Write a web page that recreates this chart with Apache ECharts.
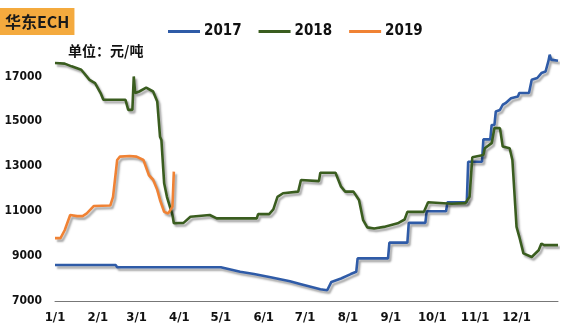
<!DOCTYPE html>
<html><head><meta charset="utf-8">
<script src="https://cdn.jsdelivr.net/npm/echarts@6/dist/echarts.min.js"></script>
<style>html,body{margin:0;padding:0;background:#fff;}#c{width:574px;height:332px;}</style>
</head><body><div id="c"></div>
<script>
var seriesNames = ['2017', '2018', '2019'];
var seriesColors = ['#2F5BA7', '#3A5D1F', '#F08234'];
var monthLengths = [31, 28, 31, 30, 31, 30, 31, 31, 30, 31, 30, 31];

var data2017 = [
  ['1/1', 8600], ['2/14', 8600], ['2/15', 8500], ['5/1', 8500], ['5/15', 8300], ['5/25', 8200],
  ['6/6', 8060], ['6/20', 7880], ['6/28', 7750], ['7/12', 7520], ['7/17', 7480], ['7/20', 7850],
  ['7/27', 8000], ['8/3', 8200], ['8/7', 8300], ['8/8', 8900], ['8/30', 8900], ['8/31', 9600],
  ['9/13', 9600], ['9/14', 10480], ['9/26', 10480], ['9/27', 11000], ['10/11', 11000], ['10/12', 11400],
  ['10/26', 11400], ['10/27', 13200], ['11/6', 13200], ['11/7', 14200], ['11/12', 14200], ['11/13', 14840],
  ['11/15', 14840], ['11/16', 15440], ['11/19', 15510], ['11/21', 15740], ['11/23', 15810], ['11/27', 16030],
  ['12/2', 16110], ['12/3', 16260], ['12/10', 16260], ['12/12', 16850], ['12/16', 16930], ['12/19', 17150],
  ['12/22', 17220], ['12/24', 17670], ['12/25', 17970], ['12/26', 17750], ['12/31', 17700]
];
var data2018 = [
  ['1/1', 17600], ['1/8', 17570], ['1/13', 17450], ['1/20', 17300], ['1/26', 16850], ['1/30', 16700],
  ['2/3', 16260], ['2/5', 15960], ['2/21', 15960], ['2/23', 15510], ['2/26', 15510], ['2/27', 17000],
  ['2/28', 16260], ['3/3', 16330], ['3/8', 16500], ['3/13', 16330], ['3/16', 15880], ['3/18', 14320],
  ['3/19', 14170], ['3/21', 12240], ['3/23', 11640], ['3/27', 10830], ['3/28', 10460], ['4/4', 10480],
  ['4/9', 10750], ['4/23', 10830], ['4/28', 10680], ['5/27', 10680], ['5/28', 10870], ['6/5', 10870],
  ['6/8', 11080], ['6/11', 11640], ['6/15', 11800], ['6/26', 11870], ['6/28', 12390], ['7/11', 12340],
  ['7/12', 12710], ['7/23', 12710], ['7/27', 12090], ['7/30', 11870], ['8/5', 11870], ['8/9', 11500],
  ['8/12', 10600], ['8/15', 10280], ['8/20', 10230], ['8/27', 10300], ['9/6', 10460], ['9/11', 10630],
  ['9/13', 10970], ['9/25', 10970], ['9/28', 11400], ['10/15', 11330], ['10/25', 11360], ['10/28', 11640],
  ['10/30', 13400], ['11/7', 13500], ['11/8', 13800], ['11/13', 14030], ['11/15', 14700], ['11/19', 14700],
  ['11/21', 13880], ['11/26', 13800], ['11/28', 13280], ['12/1', 10300], ['12/3', 9860], ['12/6', 9120],
  ['12/12', 8960], ['12/17', 9260], ['12/19', 9560], ['12/21', 9490], ['12/31', 9490]
];
var data2019 = [
  ['1/1', 9800], ['1/5', 9800], ['1/8', 10150], ['1/12', 10830], ['1/17', 10780], ['1/21', 10780],
  ['1/24', 10900], ['1/29', 11230], ['2/10', 11250], ['2/12', 11640], ['2/15', 13280], ['2/17', 13430],
  ['2/24', 13460], ['3/1', 13430], ['3/6', 13280], ['3/10', 12600], ['3/13', 12400], ['3/16', 11950],
  ['3/18', 11500], ['3/21', 10970], ['3/24', 10900], ['3/27', 11200], ['3/28', 12760]
];

var dayLabels = [];
for (var m = 0; m < 12; m++) {
  for (var d = 1; d <= monthLengths[m]; d++) dayLabels.push((m + 1) + '/' + d);
}

var FONT = 'DejaVu Sans Condensed';
var allData = [data2017, data2018, data2019];
var chart = echarts.init(document.getElementById('c'), null, {renderer: 'canvas'});
chart.setOption({
  animation: false,
  backgroundColor: '#ffffff',
  title: {
    text: '华东ECH', left: 0, top: 8,
    backgroundColor: '#F4AA3E',
    padding: [6, 5, 5, 5],
    textStyle: {fontSize: 16, fontWeight: 'bold', color: '#1a1a1a', fontFamily: 'Noto Sans CJK SC'}
  },
  graphic: [{
    type: 'text', left: 68, top: 44,
    style: {text: '单位：元/吨', fontSize: 14, fontWeight: 'bold', fill: '#111', fontFamily: 'Noto Sans CJK SC'}
  }],
  legend: {
    top: 19, left: 163,
    itemWidth: 32, itemHeight: 3, itemGap: 17,
    icon: 'rect',
    textStyle: {fontSize: 15, fontWeight: 'bold', color: '#111', fontFamily: FONT, padding: [0, 0, 0, -1]},
    data: seriesNames
  },
  grid: {left: 55, right: 16, top: 54, bottom: 31, containLabel: false},
  xAxis: {
    type: 'category', data: dayLabels, boundaryGap: false,
    axisLine: {lineStyle: {color: '#777', width: 1}},
    axisTick: {show: false},
    axisLabel: {
      interval: function (i, v) { return v.split('/')[1] === '1'; },
      fontSize: 13, fontWeight: 'bold', color: '#111', fontFamily: FONT, margin: 10
    },
    splitLine: {show: false}
  },
  yAxis: {
    type: 'value', min: 7000, max: 18000, interval: 1000,
    axisLine: {show: false}, axisTick: {show: false}, splitLine: {show: false},
    axisLabel: {
      formatter: function (v) { return (v / 1000) % 2 === 1 ? String(v) : ''; },
      fontSize: 12, fontWeight: 'bold', color: '#111', fontFamily: FONT, margin: 13
    }
  },
  series: seriesNames.map(function (n, i) {
    return {
      name: n, type: 'line', data: allData[i], symbol: 'none', showSymbol: false,
      color: seriesColors[i],
      lineStyle: {
        width: 2.6, color: seriesColors[i],
        shadowColor: 'rgba(0,0,0,0.35)', shadowBlur: 2, shadowOffsetX: 2, shadowOffsetY: 2.5
      }
    };
  })
});
</script></body></html>
